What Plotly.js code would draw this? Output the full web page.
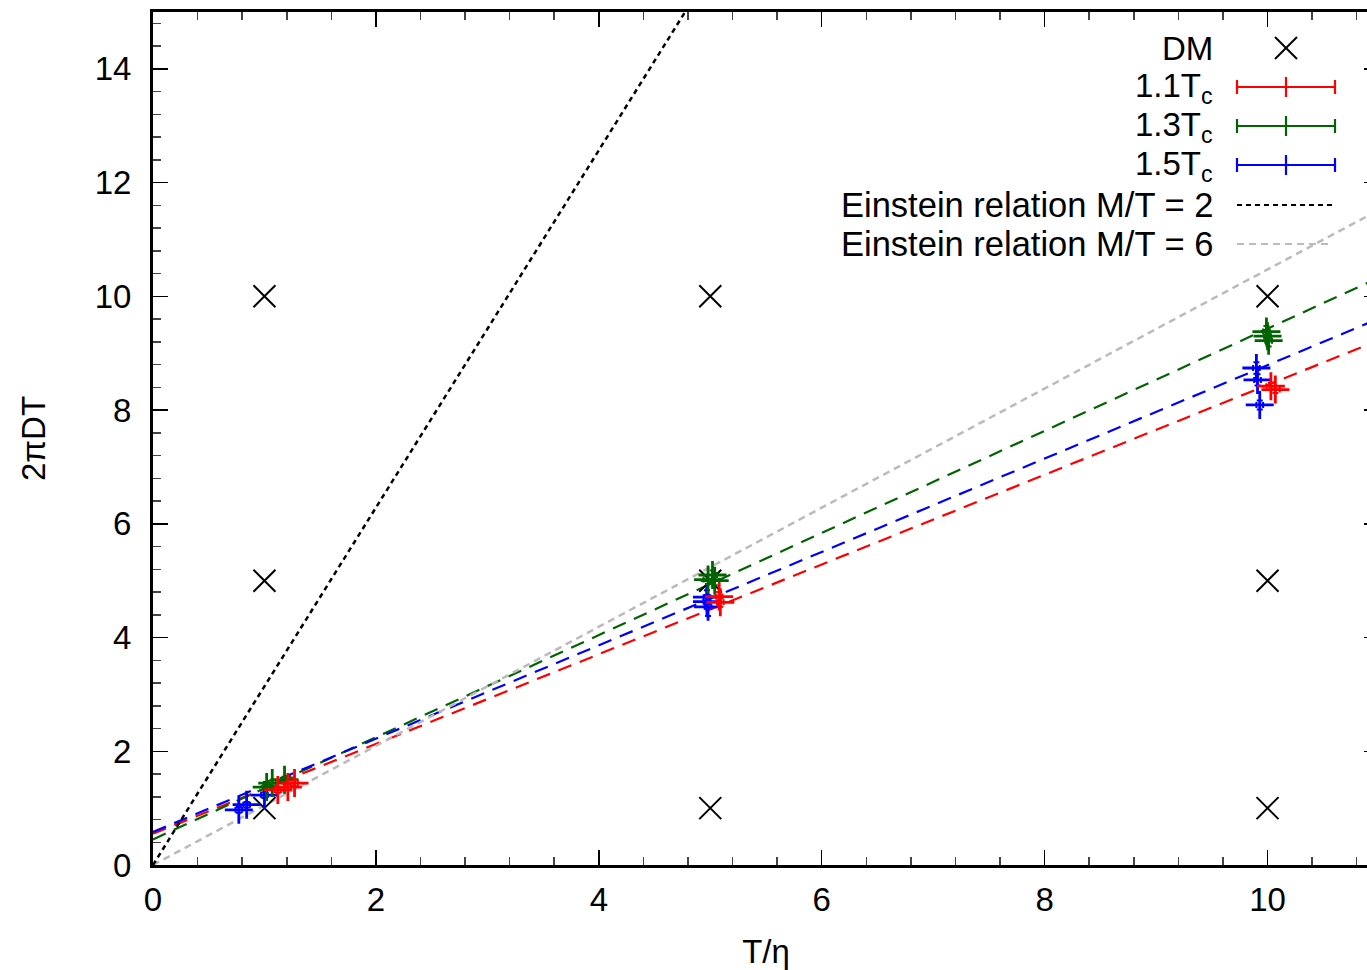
<!DOCTYPE html>
<html>
<head>
<meta charset="utf-8">
<script src="https://cdn.plot.ly/plotly-3.0.1.min.js"></script>
<style>
html, body { margin:0; padding:0; overflow:hidden; background:#fff; }
#plot { width:1389px; height:970px; }
</style>
</head>
<body>
<div id="plot"></div>
<script>
// ---- data ----
const dmX = [1, 1, 1, 5, 5, 5, 10, 10, 10];
const dmY = [1, 5, 10, 1, 5, 10, 1, 5, 10];

const tc11X  = [1.12, 1.21, 1.27, 5.08, 5.09, 10.03, 10.07];
const tc11Y  = [1.32, 1.37, 1.44, 4.72, 4.62, 8.42, 8.36];
const tc11Ex = [0.03, 0.03, 0.03, 0.03, 0.03, 0.04, 0.04];
const tc11Ey = [0.05, 0.05, 0.05, 0.08, 0.08, 0.06, 0.06];

const tc13X  = [1.02, 1.07, 1.18, 4.98, 5.02, 5.04, 9.99, 10.00, 10.01];
const tc13Y  = [1.37, 1.44, 1.50, 5.02, 5.10, 5.00, 9.38, 9.30, 9.22];
const tc13Ex = [0.03, 0.03, 0.03, 0.04, 0.04, 0.04, 0.03, 0.03, 0.03];
const tc13Ey = [0.05, 0.05, 0.05, 0.08, 0.08, 0.08, 0.10, 0.10, 0.10];

const tc15X  = [0.77, 0.84, 1.00, 4.97, 4.97, 4.98, 9.90, 9.91, 9.93];
const tc15Y  = [0.97, 1.06, 1.23, 4.71, 4.63, 4.54, 8.74, 8.53, 8.09];
const tc15Ex = [0.03, 0.03, 0.03, 0.03, 0.03, 0.03, 0.03, 0.03, 0.03];
const tc15Ey = [0.05, 0.05, 0.05, 0.12, 0.12, 0.16, 0.10, 0.10, 0.08];

// dashed fit lines (end points)
const fitX      = [0, 11];
const fit11Y    = [0.55, 9.23];
const fit13Y    = [0.45, 10.33];
const fit15Y    = [0.58, 9.61];

// Einstein relation lines (end points)
const ein2X = [0, 5];
const ein2Y = [0, 15.71];
const ein6X = [0, 11];
const ein6Y = [0, 11.52];

const xTicks = [0, 2, 4, 6, 8, 10];
const yTicks = [0, 2, 4, 6, 8, 10, 12, 14];

const legendLabels = ['DM', '1.1T<sub>c</sub>', '1.3T<sub>c</sub>', '1.5T<sub>c</sub>',
                      'Einstein relation M/T = 2', 'Einstein relation M/T = 6'];

// ---- styles ----
const RED = '#ff0000', GREEN = '#006400', BLUE = '#0000ff', GREY = '#bbbbbb';
const FONT = 'Liberation Sans, Arial, Helvetica, sans-serif';
const FS = 33;

function fitTrace(y, c) {
  return {x: fitX, y: y, mode: 'lines', line: {color: c, width: 2.2, dash: '14px,9px'},
          showlegend: false, hoverinfo: 'skip'};
}
function dataTrace(x, y, ex, ey, c, name) {
  return {x: x, y: y, name: name, mode: 'markers',
    marker: {symbol: 'cross-thin', size: 20, color: c, line: {color: c, width: 2.8}},
    error_x: {type: 'data', array: ex, visible: true, color: c, thickness: 2, width: 3},
    error_y: {type: 'data', array: ey, visible: true, color: c, thickness: 2, width: 3},
    showlegend: false};
}

const traces = [
  fitTrace(fit11Y, RED),
  fitTrace(fit13Y, GREEN),
  fitTrace(fit15Y, BLUE),
  {x: ein6X, y: ein6Y, mode: 'lines', line: {color: GREY, width: 2.5, dash: '7px,5px'}, showlegend: false},
  {x: ein2X, y: ein2Y, mode: 'lines', line: {color: '#000', width: 2.5, dash: '5px,4px'}, showlegend: false},
  {x: dmX, y: dmY, mode: 'markers', name: 'DM',
   marker: {symbol: 'x-thin', size: 22, color: '#000', line: {color: '#000', width: 2}}, showlegend: false},
  dataTrace(tc15X, tc15Y, tc15Ex, tc15Ey, BLUE, '1.5Tc'),
  dataTrace(tc13X, tc13Y, tc13Ex, tc13Ey, GREEN, '1.3Tc'),
  dataTrace(tc11X, tc11Y, tc11Ex, tc11Ey, RED, '1.1Tc')
];

// ---- manual gnuplot-style legend (paper coords from pixel positions) ----
const L = 153, T = 12, PW = 1226, PH = 853;
const px = v => (v - L) / PW;
const py = v => (T + PH - v) / PH;
const rowY = [48, 87, 126, 165, 205, 244];
const textRight = 1215, s0 = 1237, s1 = 1335, sMid = 1286;
const LFS = [33, 33, 33, 33, 34.5, 34.5];
const annotations = legendLabels.map((t, i) => ({
  xref: 'paper', yref: 'paper', x: px(textRight), y: py(rowY[i] + (i >= 1 && i <= 3 ? 1 : 0)),
  xanchor: 'right', yanchor: 'middle', text: t, showarrow: false,
  font: {family: FONT, size: LFS[i], color: '#000'}
}));
const shapes = [];
function seg(x0, y0, x1, y1, c, w, dash) {
  shapes.push({type: 'line', xref: 'paper', yref: 'paper', x0: px(x0), y0: py(y0), x1: px(x1), y1: py(y1),
               line: {color: c, width: w, dash: dash || 'solid'}});
}
// DM sample
seg(sMid - 11, rowY[0] - 11, sMid + 11, rowY[0] + 11, '#000', 2);
seg(sMid - 11, rowY[0] + 11, sMid + 11, rowY[0] - 11, '#000', 2);
// errorbar samples
[[RED, rowY[1]], [GREEN, rowY[2]], [BLUE, rowY[3]]].forEach(([c, y]) => {
  seg(s0, y, s1, y, c, 2.2);
  seg(s0, y - 7, s0, y + 7, c, 2.2);
  seg(s1, y - 7, s1, y + 7, c, 2.2);
  seg(sMid, y - 10, sMid, y + 10, c, 2.2);
});
seg(s0, rowY[4], 1332, rowY[4], '#000', 2.2, '5px,4px');
seg(s0, rowY[5], 1332, rowY[5], GREY, 2.2, '7px,5px');

const axisCommon = {
  showline: true, linecolor: '#000', linewidth: 3, mirror: 'ticks',
  ticks: 'inside', ticklen: 15, tickwidth: 1.5, tickcolor: '#000',
  showgrid: false, zeroline: false,
  tickfont: {family: FONT, size: FS, color: '#000'},
  minor: {dtick: 0.4, tick0: 0, ticks: 'inside', ticklen: 8, tickwidth: 1.5, tickcolor: '#444', showgrid: false}
};

const layout = {
  width: 1389, height: 970,
  margin: {l: L, r: 1389 - L - PW, t: T, b: 970 - T - PH},
  paper_bgcolor: '#fff', plot_bgcolor: '#fff',
  showlegend: false,
  font: {family: FONT, size: FS, color: '#000'},
  xaxis: Object.assign({}, axisCommon, {
    range: [0, 11], tickvals: xTicks, ticktext: xTicks.map(String),
    ticklabelstandoff: 3,
    title: {text: 'T/η', font: {family: FONT, size: FS}, standoff: 24}
  }),
  yaxis: Object.assign({}, axisCommon, {
    range: [0, 15], tickvals: yTicks, ticktext: yTicks.map(String),
    ticklabelstandoff: 12,
    title: {text: '2πDT', font: {family: FONT, size: FS}, standoff: 40}
  }),
  annotations: annotations,
  shapes: shapes
};

Plotly.newPlot('plot', traces, layout, {staticPlot: true, displayModeBar: false});
</script>
</body>
</html>
